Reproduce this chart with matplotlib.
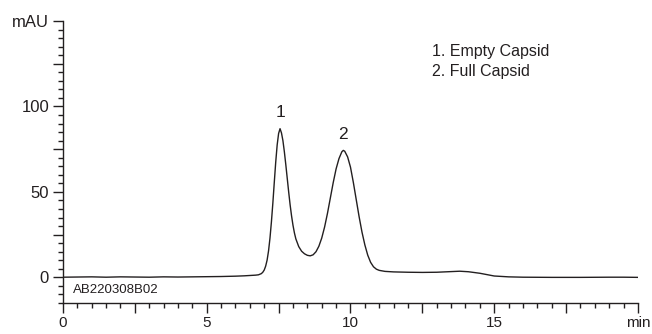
import matplotlib.pyplot as plt
from matplotlib.ticker import MultipleLocator, FuncFormatter

# retention time (min) and absorbance (mAU)
time = [0.0, 0.5, 1.0, 1.5, 2.0, 2.5, 3.0, 3.5, 4.0, 4.5, 5.0, 5.5, 6.0, 6.3, 6.5, 6.7, 6.8,
        6.9, 6.95, 7.0, 7.05, 7.1, 7.15, 7.2, 7.25, 7.3, 7.35, 7.4, 7.45, 7.5, 7.55,
        7.6, 7.65, 7.7, 7.75, 7.8, 7.85, 7.9, 7.95, 8.0, 8.05, 8.1, 8.2, 8.3, 8.4,
        8.5, 8.6, 8.7, 8.8, 8.9, 9.0, 9.1, 9.2, 9.3, 9.4, 9.5, 9.6, 9.7, 9.75,
        9.8, 9.9, 10.0, 10.1, 10.2, 10.3, 10.4, 10.5, 10.6, 10.7, 10.8, 10.9,
        11.0, 11.2, 11.5, 12.0, 12.5, 13.0, 13.4, 13.8, 14.1, 14.5, 15.0, 15.5,
        16.0, 17.0, 18.0, 19.0, 19.5, 20.0]
signal = [0.1, 0.2, 0.3, 0.1, 0.3, 0.2, 0.1, 0.3, 0.2, 0.3, 0.4, 0.5, 0.7, 0.9, 1.1, 1.3, 1.5,
          2.2, 3.0, 4.3, 6.6, 10.1, 15.5, 23.0, 32.5, 43.5, 55.7, 67.5, 77.5, 84.2, 87.0,
          84.5, 80.0, 73.5, 66.0, 58.0, 50.0, 42.5, 36.0, 30.5, 26.0, 22.5, 18.0, 15.3, 13.8,
          12.9, 12.6, 13.2, 15.0, 18.2, 23.0, 29.5, 37.5, 46.5, 55.5, 63.5, 69.5, 73.5, 74.3,
          73.8, 70.5, 64.5, 55.5, 45.5, 35.5, 26.5, 19.0, 13.0, 8.8, 6.2, 4.8,
          4.1, 3.5, 3.2, 3.0, 2.9, 3.0, 3.3, 3.6, 3.3, 2.4, 0.8, 0.3,
          0.1, 0.0, 0.0, 0.1, 0.1, 0.0]

peak_labels = ['1', '2']
peak_times = [7.55, 9.75]
peak_heights = [87.0, 74.3]
legend_lines = ['1. Empty Capsid', '2. Full Capsid']
sample_id = 'AB220308B02'

ink = '#231f20'
plt.rcParams['font.family'] = ['Liberation Sans', 'DejaVu Sans']

fig = plt.figure(figsize=(6.52, 3.34), dpi=100)
ax = fig.add_axes([0.0966, 0.0928, 0.8819, 0.8443])

ax.plot(time, signal, color=ink, lw=1.0)

for lab, t, h in zip(peak_labels, peak_times, peak_heights):
    ax.text(t, h + 5, lab, ha='center', va='bottom', fontsize=12.5, color=ink)

ax.text(12.82, 132.2, legend_lines[0], ha='left', va='center', fontsize=11.5, color=ink)
ax.text(12.82, 120.6, legend_lines[1], ha='left', va='center', fontsize=11.5, color=ink)
ax.text(0.36, -7.4, sample_id, ha='left', va='center', fontsize=9.5, color=ink)

ax.set_xlim(0, 20)
ax.set_ylim(-15, 150)
for side in ['top', 'right']:
    ax.spines[side].set_visible(False)
for side in ['left', 'bottom']:
    ax.spines[side].set_color(ink)
    ax.spines[side].set_linewidth(1.0)
ax.spines['left'].set_bounds(-15, 150)

ax.xaxis.set_major_locator(MultipleLocator(2.5))
ax.xaxis.set_minor_locator(MultipleLocator(0.5))
ax.yaxis.set_major_locator(MultipleLocator(25))
ax.yaxis.set_minor_locator(MultipleLocator(5))


def xfmt(v, pos):
    if abs(v - 20) < 1e-6:
        return 'min'
    if abs(v % 5) < 1e-6:
        return '%d' % v
    return ''


def yfmt(v, pos):
    if abs(v - 150) < 1e-6:
        return 'mAU'
    if v >= 0 and abs(v % 50) < 1e-6:
        return '%d' % v
    return ''


ax.xaxis.set_major_formatter(FuncFormatter(xfmt))
ax.yaxis.set_major_formatter(FuncFormatter(yfmt))
ax.tick_params(which='major', length=7.0, width=1.0, color=ink, labelcolor=ink,
               labelsize=12, direction='out')
ax.tick_params(which='minor', length=3.8, width=1.0, color=ink, direction='out')
ax.tick_params(axis='x', which='major', pad=2, labelsize=11)
ax.tick_params(axis='y', which='major', pad=3)

fig.savefig('out.png', dpi=100)
